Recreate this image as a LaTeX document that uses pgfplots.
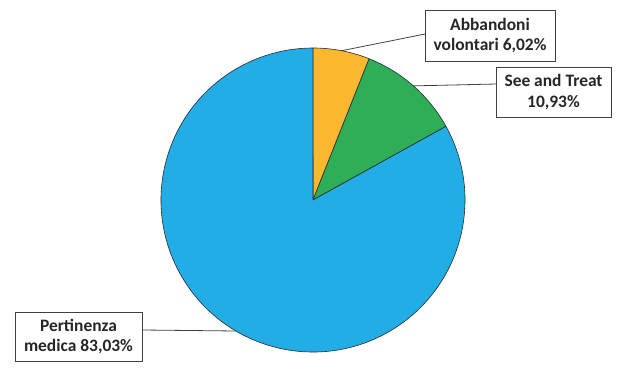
\documentclass[border=0pt]{standalone}
\usepackage{pgfplots}
\usepackage{pgfplotstable}
\pgfplotsset{compat=1.18}
\usepackage{fontspec}
\setmainfont{Carlito}
\definecolor{pieorange}{HTML}{FBB82E}
\definecolor{piegreen}{HTML}{2FAE58}
\definecolor{pieblue}{HTML}{22ADE6}
\definecolor{edge}{HTML}{2A2A2A}
\definecolor{lead}{HTML}{404040}
\pgfplotstableread{
label value
Abbandoni 6.02
SeeTreat 10.93
Pertinenza 83.03
}\piedata
\begin{document}
\begin{tikzpicture}
\pgfplotstablegetelem{0}{value}\of\piedata \let\va\pgfplotsretval
\pgfplotstablegetelem{1}{value}\of\piedata \let\vb\pgfplotsretval
\pgfplotstablegetelem{2}{value}\of\piedata \let\vc\pgfplotsretval
\pgfmathsetmacro{\aA}{90}
\pgfmathsetmacro{\aB}{90-\va*3.6}
\pgfmathsetmacro{\aC}{\aB-\vb*3.6}
\pgfmathsetmacro{\aD}{\aC-\vc*3.6}
\pgfmathsetmacro{\mA}{(\aA+\aB)/2}
\pgfmathsetmacro{\mB}{(\aB+\aC)/2}
\pgfmathsetmacro{\mC}{(\aC+\aD)/2}
\begin{axis}[
  scale only axis, width=617bp, height=361bp,
  xmin=0, xmax=617, ymin=0, ymax=361,
  hide axis, clip=false,
]
\path (axis cs:0,0) rectangle (axis cs:617,361);
\def\cx{313}\def\cy{161}\def\R{152bp}
\filldraw[fill=pieorange, draw=edge, line width=0.6pt, line join=round]
  (axis cs:\cx,\cy) -- ++(\aA:\R) arc[start angle=\aA, end angle=\aB, radius=\R] -- cycle;
\filldraw[fill=piegreen, draw=edge, line width=0.6pt, line join=round]
  (axis cs:\cx,\cy) -- ++(\aB:\R) arc[start angle=\aB, end angle=\aC, radius=\R] -- cycle;
\filldraw[fill=pieblue, draw=edge, line width=0.6pt, line join=round]
  (axis cs:\cx,\cy) -- ++(\aC:\R) arc[start angle=\aC, end angle=\aD, radius=\R] -- cycle;
% leader lines
\draw[lead, line width=0.8pt] (axis cs:\cx,\cy) ++(\mA:\R) -- (axis cs:425,327);
\draw[lead, line width=0.8pt] (axis cs:\cx,\cy) ++(\mB:\R) -- (axis cs:496,277);
\draw[lead, line width=0.8pt] (axis cs:\cx,\cy) ++(\mC:\R) -- (axis cs:142,31);
% labels
\tikzset{lbl/.style={draw=lead, line width=0.8pt, fill=white, align=center, inner sep=0pt,
  font=\fontsize{17.5}{20.5}\selectfont\bfseries, text=black!85}}
\node[lbl, minimum width=130bp, minimum height=51bp] at (axis cs:490,325.5)
  {Abbandoni\\volontari 6,02\%};
\node[lbl, minimum width=115bp, minimum height=50bp] at (axis cs:553.5,269)
  {See and Treat\\10,93\%};
\node[lbl, minimum width=127bp, minimum height=49bp] at (axis cs:78.5,24.5)
  {Pertinenza\\medica 83,03\%};
\end{axis}
\end{tikzpicture}
\end{document}
